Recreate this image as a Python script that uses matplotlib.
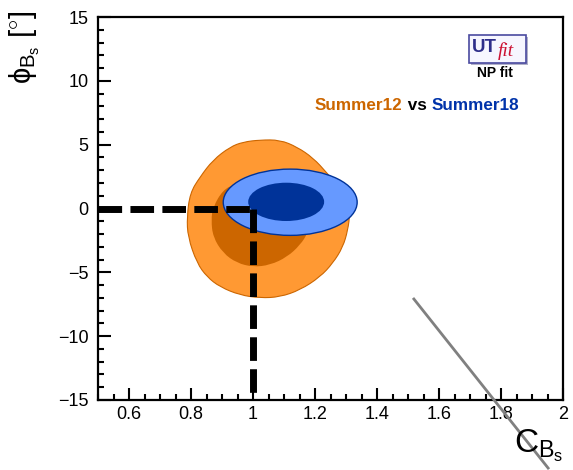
import numpy as np
import matplotlib
matplotlib.use("Agg")
import matplotlib.pyplot as plt
from matplotlib.path import Path
from matplotlib.patches import PathPatch, Ellipse, Rectangle
from matplotlib.ticker import MultipleLocator, FuncFormatter

plt.rcParams['font.family'] = ['Liberation Sans', 'DejaVu Sans']
plt.rcParams['mathtext.fontset'] = 'custom'
plt.rcParams['mathtext.rm'] = 'Liberation Sans'
plt.rcParams['mathtext.it'] = 'Liberation Sans'
plt.rcParams['mathtext.bf'] = 'Liberation Sans:bold'

# Summer12: 95% probability region (outer) and 68% region (inner)
s12_outer_x = [1.023, 1.087, 1.142, 1.194, 1.239, 1.297, 1.313, 1.306, 1.290, 1.258,
               1.216, 1.152, 1.087, 1.023, 0.958, 0.894, 0.852, 0.819, 0.790, 0.787,
               0.797, 0.829, 0.871, 0.926, 0.968]
s12_outer_y = [5.37, 5.37, 4.82, 3.96, 2.78, 1.06, -0.35, -1.68, -3.02, -4.27,
               -5.37, -6.38, -6.93, -7.01, -6.78, -6.15, -5.37, -4.27, -2.23, -0.67,
               1.21, 2.47, 3.80, 4.82, 5.21]
s12_inner_x = [0.903, 0.871, 0.865, 0.871, 0.903, 0.948, 1.000, 1.055, 1.110, 1.152,
               1.177, 1.190, 1.168, 1.103, 1.006, 0.942]
s12_inner_y = [1.45, 0.12, -0.90, -2.23, -3.49, -4.27, -4.58, -4.43, -3.80, -2.86,
               -1.92, -0.51, 1.06, 2.00, 2.23, 1.92]

# Summer18: regions as ellipses (centre, full width in C_Bs, full height in phi_Bs)
s18_center = (1.120, 0.49)
s18_outer_size = (0.432, 5.19)
s18_inner_center = (1.107, 0.52)
s18_inner_size = (0.245, 3.00)

# Standard Model point
sm_cbs = 1.0
sm_phibs = 0.0

x_range = (0.5, 2.0)
y_range = (-15.0, 15.0)


def smooth_closed_path(xs, ys):
    pts = np.column_stack([xs, ys])
    mids = (pts + np.roll(pts, -1, axis=0)) / 2.0
    verts = [mids[-1]]
    codes = [Path.MOVETO]
    for i in range(len(pts)):
        verts += [pts[i], mids[i]]
        codes += [Path.CURVE3, Path.CURVE3]
    verts.append(mids[-1])
    codes.append(Path.CLOSEPOLY)
    return Path(verts, codes)


def root_label(v, pos):
    s = '%g' % v
    return s.replace('-', '\u2212')


fig = plt.figure(figsize=(5.73, 4.70), dpi=100)
ax = fig.add_axes([98 / 573, 70 / 470, 465 / 573, 383 / 470])
ax.set_xlim(*x_range)
ax.set_ylim(*y_range)

ax.add_patch(PathPatch(smooth_closed_path(s12_outer_x, s12_outer_y),
                       facecolor='#ff9933', edgecolor='#cc6600', lw=0.8, zorder=1))
ax.add_patch(PathPatch(smooth_closed_path(s12_inner_x, s12_inner_y),
                       facecolor='#cc6600', edgecolor='none', zorder=2))
ax.add_patch(Ellipse(s18_center, *s18_outer_size, facecolor='#6699ff',
                     edgecolor='#003399', lw=1.0, zorder=3))
ax.add_patch(Ellipse(s18_inner_center, *s18_inner_size, facecolor='#003399',
                     edgecolor='none', zorder=4))

dash = dict(color='black', lw=5.0, dashes=(3.4, 1.2), zorder=5)
ax.plot([x_range[0], sm_cbs], [sm_phibs, sm_phibs], **dash)
ax.plot([sm_cbs, sm_cbs], [sm_phibs, y_range[0]], **dash)

# stray guide line running off the frame
ax.plot([1.519, 1.952], [-7.09, -20.33], color='#808080', lw=2.0,
        clip_on=False, zorder=6)

for s in ax.spines.values():
    s.set_linewidth(1.6)
ax.xaxis.set_major_locator(MultipleLocator(0.2))
ax.xaxis.set_minor_locator(MultipleLocator(0.05))
ax.yaxis.set_major_locator(MultipleLocator(5))
ax.yaxis.set_minor_locator(MultipleLocator(1))
ax.xaxis.set_major_formatter(FuncFormatter(root_label))
ax.yaxis.set_major_formatter(FuncFormatter(root_label))
ax.tick_params(which='both', direction='in', top=False, right=False, width=1.5)
ax.tick_params(which='major', length=9, labelsize=13)
ax.tick_params(which='minor', length=4.5)
ax.tick_params(axis='x', which='major', pad=4)
ax.tick_params(axis='y', which='major', pad=7)

# axis titles
fig.text(25 / 573, 1 - 10 / 470, r'$\phi_{B_s}\ [^{\circ}]$', rotation=90,
         ha='center', va='top', fontsize=21)
fig.text(563 / 573, (470 - 453) / 470, r'$C_{B_s}$', ha='right',
         va='baseline', fontsize=24)

# legend text
legend_fs = 12.3
t1 = fig.text(315 / 573, (470 - 110) / 470, 'Summer12', color='#cc6600',
              fontsize=legend_fs, fontweight='bold', va='baseline')
a2 = ax.annotate(' vs ', xy=(1, 0), xycoords=t1, va='bottom', ha='left',
                 color='black', fontsize=legend_fs, fontweight='bold')
a3 = ax.annotate('Summer18', xy=(1, 0), xycoords=a2, va='bottom', ha='left',
                 color='#0033aa', fontsize=legend_fs, fontweight='bold')

# UTfit badge
fig.patches.append(Rectangle((471 / 573, (470 - 65) / 470), 57 / 573, 28 / 470,
                             transform=fig.transFigure, facecolor='#b0b0c8',
                             edgecolor='none', zorder=8))
fig.patches.append(Rectangle((469 / 573, (470 - 63) / 470), 57 / 573, 28 / 470,
                             transform=fig.transFigure, facecolor='#f6f6ff',
                             edgecolor='#4a4aa0', lw=1.2, zorder=9))
fig.text(472 / 573, (470 - 52) / 470, 'UT', color='#2e2e8a', fontsize=13.5,
         fontweight='bold', va='baseline', zorder=10)
fig.text(498 / 573, (470 - 56) / 470, 'fit', color='#cc1133', fontsize=14,
         family='Liberation Serif', style='italic', va='baseline', zorder=10)
fig.text(495 / 573, (470 - 73) / 470, 'NP fit', color='black', fontsize=10,
         fontweight='bold', ha='center', va='center', zorder=10)

fig.savefig('out.png', dpi=100)
